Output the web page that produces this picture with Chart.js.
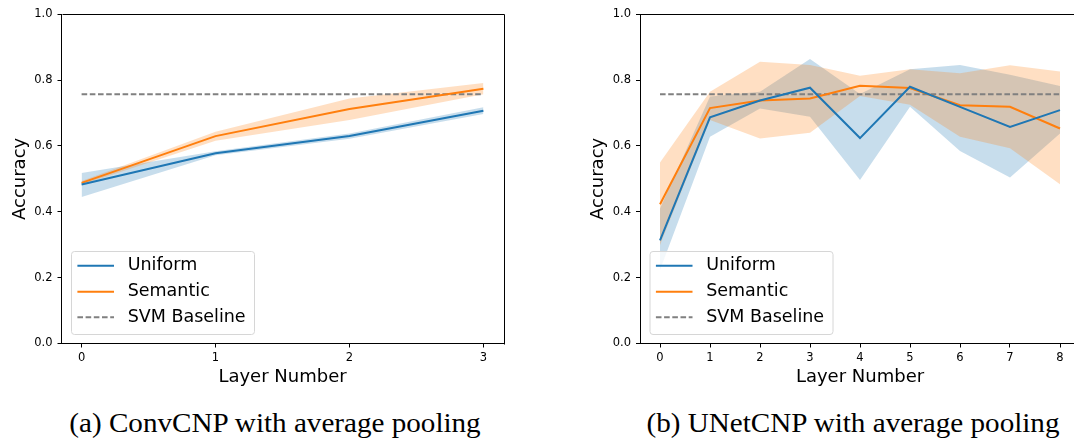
<!DOCTYPE html>
<html>
<head>
<meta charset="utf-8">
<script src="https://cdn.jsdelivr.net/npm/chart.js@4.4.1/dist/chart.umd.min.js"></script>
<style>
  html, body { margin: 0; padding: 0; background: #fff; width: 1074px; height: 442px; overflow: hidden; position: relative; }
  canvas { position: absolute; top: 0; }
  #ca { left: 0; }
  #cb { left: 537px; }
  .cap { position: absolute; font-family: "Liberation Serif", "DejaVu Serif", serif; font-size: 28px; color: #000; white-space: nowrap; top: 408.5px; line-height: 28px; transform: translateX(-50%) scaleX(1.04); }
</style>
</head>
<body>
<canvas id="ca" width="537" height="400"></canvas>
<canvas id="cb" width="560" height="400"></canvas>
<div class="cap" id="capA" style="left:275px">(a) ConvCNP with average pooling</div>
<div class="cap" id="capB" style="left:852.5px">(b) UNetCNP with average pooling</div>
<script>
// ---------- data ----------
const yTicks = [0.0, 0.2, 0.4, 0.6, 0.8, 1.0];
const svmBaseline = 0.757;

// (a) ConvCNP
const layersA = [0, 1, 2, 3];
const uniformA    = [0.483, 0.578, 0.630, 0.707];
const uniformALo  = [0.445, 0.572, 0.622, 0.697];
const uniformAHi  = [0.518, 0.584, 0.638, 0.718];
const semanticA   = [0.488, 0.630, 0.712, 0.774];
const semanticALo = [0.482, 0.616, 0.679, 0.757];
const semanticAHi = [0.494, 0.643, 0.744, 0.791];

// (b) UNetCNP
const layersB = [0, 1, 2, 3, 4, 5, 6, 7, 8];
const uniformB    = [0.313, 0.687, 0.738, 0.777, 0.624, 0.780, 0.719, 0.658, 0.709];
const uniformBLo  = [0.223, 0.628, 0.714, 0.689, 0.497, 0.719, 0.585, 0.504, 0.638];
const uniformBHi  = [0.410, 0.750, 0.765, 0.864, 0.758, 0.833, 0.846, 0.816, 0.782];
const semanticB   = [0.423, 0.715, 0.738, 0.744, 0.783, 0.776, 0.724, 0.719, 0.653];
const semanticBLo = [0.299, 0.679, 0.623, 0.640, 0.752, 0.725, 0.628, 0.593, 0.484];
const semanticBHi = [0.550, 0.765, 0.856, 0.846, 0.813, 0.833, 0.821, 0.845, 0.826];

const legendLabels = ['Uniform', 'Semantic', 'SVM Baseline'];

// ---------- styles ----------
const BLUE = '#1f77b4', ORANGE = '#ff7f0e', GRAY = '#808080';
const BLUE_FILL = 'rgba(31,119,180,0.25)', ORANGE_FILL = 'rgba(255,127,14,0.25)';
const SANS = '"DejaVu Sans", sans-serif';

function pts(xs, ys) { return xs.map((x, i) => ({ x: x, y: ys[i] })); }

const frame = {
  id: 'frame',
  afterDraw(chart) {
    const { ctx, chartArea: a } = chart;
    ctx.save();
    ctx.strokeStyle = '#000';
    ctx.lineWidth = 1;
    ctx.beginPath();
    ctx.moveTo(Math.round(a.left) + 0.5, Math.round(a.top) + 0.5);
    ctx.lineTo(Math.round(a.right) + 0.5, Math.round(a.top) + 0.5);
    ctx.lineTo(Math.round(a.right) + 0.5, Math.round(a.bottom) + 0.5);
    ctx.stroke();
    ctx.restore();
  }
};

const boxLegend = {
  id: 'boxLegend',
  afterDraw(chart) {
    const { ctx, chartArea: a } = chart;
    const ds = chart.data.datasets;
    const w = 183, h = 83;
    const x = a.left + 9.5, y = a.bottom - 9.5 - h;
    ctx.save();
    ctx.beginPath();
    if (ctx.roundRect) ctx.roundRect(x + 0.5, y + 0.5, w, h, 3); else ctx.rect(x + 0.5, y + 0.5, w, h);
    ctx.fillStyle = 'rgba(255,255,255,0.8)';
    ctx.fill();
    ctx.strokeStyle = '#d6d6d6';
    ctx.lineWidth = 1;
    ctx.stroke();
    const rows = [14.7, 40.7, 66.3];
    ctx.font = '17.5px ' + SANS;
    ctx.textBaseline = 'middle';
    ctx.fillStyle = '#000';
    for (let i = 0; i < 3; i++) {
      const d = ds[i];
      const ry = y + rows[i];
      ctx.beginPath();
      ctx.setLineDash(d.borderDash || []);
      ctx.strokeStyle = d.borderColor;
      ctx.lineWidth = d.borderWidth;
      ctx.moveTo(x + 6.4, ry);
      ctx.lineTo(x + 43, ry);
      ctx.stroke();
      ctx.setLineDash([]);
      ctx.fillText(d.label, x + 56.7, ry);
    }
    ctx.restore();
  }
};

function makeChart(id, xs, uni, uniLo, uniHi, sem, semLo, semHi, padLeft, padRight) {
  const n = xs.length - 1;
  const margin = n * 0.05;
  const lineDs = (label, data, color) => ({
    label, data, borderColor: color, backgroundColor: color, borderWidth: 2,
    pointRadius: 0, fill: false, tension: 0
  });
  const bandDs = (data, fillColor, fillTo) => ({
    label: '', data, borderWidth: 0, borderColor: 'rgba(0,0,0,0)', pointRadius: 0,
    backgroundColor: fillColor, fill: fillTo, tension: 0
  });
  return new Chart(document.getElementById(id), {
    type: 'line',
    data: {
      datasets: [
        lineDs(legendLabels[0], pts(xs, uni), BLUE),
        lineDs(legendLabels[1], pts(xs, sem), ORANGE),
        Object.assign(lineDs(legendLabels[2], [{ x: xs[0], y: svmBaseline }, { x: xs[n], y: svmBaseline }], GRAY), { borderDash: [5.6, 2.6] }),
        bandDs(pts(xs, semLo), 'rgba(0,0,0,0)', false),
        bandDs(pts(xs, semHi), ORANGE_FILL, '-1'),
        bandDs(pts(xs, uniLo), 'rgba(0,0,0,0)', false),
        bandDs(pts(xs, uniHi), BLUE_FILL, '-1')
      ]
    },
    options: {
      responsive: false,
      animation: false,
      devicePixelRatio: 1,
      layout: { padding: { left: padLeft, right: padRight, top: 14.3, bottom: 0 } },
      plugins: {
        legend: { display: false },
        tooltip: { enabled: false },
        filler: { drawTime: 'beforeDatasetsDraw', propagate: false }
      },
      scales: {
        x: {
          type: 'linear',
          min: xs[0] - margin,
          max: xs[n] + margin,
          afterBuildTicks: s => { s.ticks = xs.map(v => ({ value: v })); },
          afterFit: s => { s.height = 56.5; },
          ticks: { font: { family: SANS, size: 11.5 }, color: '#000', padding: 4, maxRotation: 0, callback: v => String(v) },
          grid: { display: true, drawOnChartArea: false, drawTicks: true, tickLength: 4, tickColor: '#000', lineWidth: 1 },
          border: { display: true, color: '#000', width: 1 },
          title: { display: true, text: 'Layer Number', font: { family: SANS, size: 18 }, color: '#000', padding: { top: 0, bottom: 12 } }
        },
        y: {
          type: 'linear',
          min: 0, max: 1,
          afterBuildTicks: s => { s.ticks = yTicks.map(v => ({ value: v })); },
          afterFit: s => { s.width = 61.5; },
          ticks: { font: { family: SANS, size: 11.5 }, color: '#000', padding: 5, callback: v => v.toFixed(1) },
          grid: { display: true, drawOnChartArea: false, drawTicks: true, tickLength: 4, tickColor: '#000', lineWidth: 1 },
          border: { display: true, color: '#000', width: 1 },
          title: { display: true, text: 'Accuracy', font: { family: SANS, size: 18 }, color: '#000', padding: { top: 9.5, bottom: 0 } }
        }
      }
    },
    plugins: [frame, boxLegend]
  });
}

makeChart('ca', layersA, uniformA, uniformALo, uniformAHi, semanticA, semanticALo, semanticAHi, 0, 33.5);
makeChart('cb', layersB, uniformB, uniformBLo, uniformBHi, semanticB, semanticBLo, semanticBHi, 41.5, 17);
</script>
</body>
</html>
